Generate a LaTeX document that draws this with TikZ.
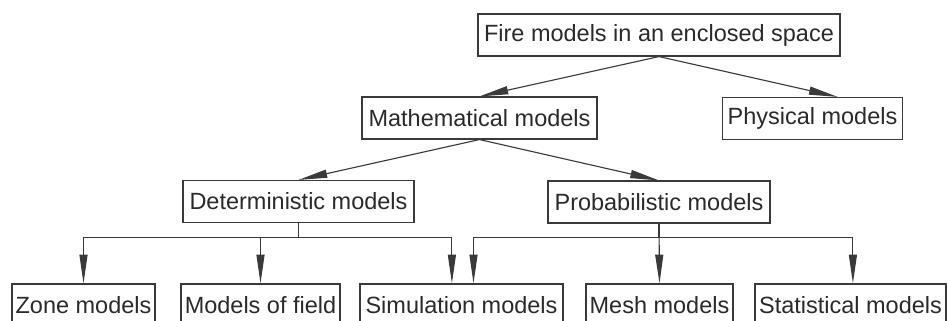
\documentclass[tikz,border=0pt]{standalone}
\usepackage{fontspec}
\setmainfont{Liberation Sans}
\usetikzlibrary{arrows.meta}
\usetikzlibrary{positioning}
\definecolor{inkgrey}{HTML}{2A2A2A}
\definecolor{linegrey}{HTML}{3A3A3A}
\tikzstyle{model} = [rectangle, minimum height=1.05cm, inner sep=0pt, text centered, draw=linegrey, line width=0.8pt, text=inkgrey, font=\fontsize{16.7}{20}\selectfont]
\tikzstyle{link} = [draw=linegrey, line width=0.8pt, -{Triangle[length=0.72cm,width=0.2cm]}]

\begin{document}
\begin{tikzpicture}[x=0.025cm, y=-0.025cm]
\clip (0,0) rectangle (947,321);
\useasboundingbox (0,0) rectangle (947,321);

 \node (fire) [model, minimum width=9.05cm] at (659,35) {Fire models in an enclosed space};
 \node (math) [model, minimum width=5.875cm] at (479.5,118) {Mathematical models};
 \node (phys) [model, minimum width=4.5cm] at (812.5,118.5) {Physical models};
 \node (det) [model, minimum width=5.775cm] at (298.5,201.5) {Deterministic models};
 \node (prob) [model, minimum width=5.55cm] at (659,202) {Probabilistic models};

 \node (zone) [model, minimum width=3.575cm] at (83.5,305) {Zone models};
 \node (field) [model, minimum width=3.975cm] at (260.5,305) {Models of field};
 \node (sim) [model, minimum width=5.075cm] at (461.5,305) {Simulation models};
 \node (mesh) [model, minimum width=3.675cm] at (659.5,305) {Mesh models};
 \node (stat) [model, minimum width=4.775cm] at (850.5,305) {Statistical models};

 \draw[link] (fire.south) -- (math.north);
 \draw[link] (fire.south) -- ([xshift=0.63cm]phys.north);
 \draw[link] (math.south) -- (det.north);
 \draw[link] (math.south) -- (prob.north);

 \draw[link] (det.south) -- ++(0,14) -| (zone.north);
 \draw[link] (det.south) -- ++(0,14) -| (field.north);
 \draw[link] (det.south) -- ++(0,14) -| ([xshift=-0.24cm]sim.north);
 \draw[link] (prob.south) -- ++(0,14) -| ([xshift=0.3cm]sim.north);
 \draw[link] (prob.south) -- (mesh.north);
 \draw[link] (prob.south) -- ++(0,14) -| ([xshift=0.06cm]stat.north);
\end{tikzpicture}
\end{document}
